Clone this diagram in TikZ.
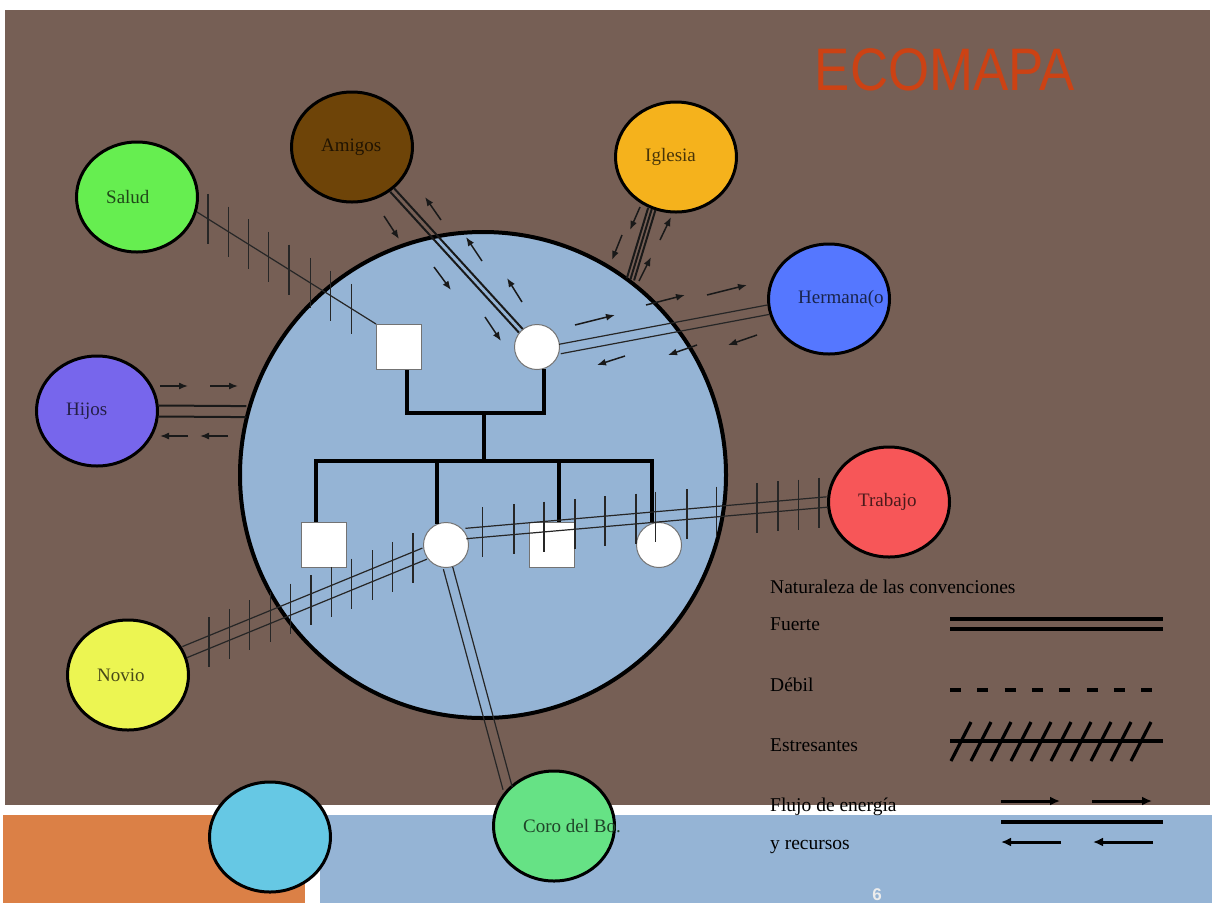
\documentclass[tikz,border=0pt]{standalone}
\usepackage{graphicx}
\usepackage{fontspec}
\setmainfont{Liberation Serif}
\newfontfamily\titulofont{Liberation Sans}
\usetikzlibrary{shapes.geometric,calc,arrows.meta}

\definecolor{fondo}{RGB}{118,95,85}
\definecolor{azul}{RGB}{149,180,213}
\definecolor{naranja}{RGB}{219,128,70}
\definecolor{tituloc}{RGB}{204,66,20}
\definecolor{amigosc}{RGB}{110,68,8}
\definecolor{iglesiac}{RGB}{245,178,28}
\definecolor{saludc}{RGB}{102,238,80}
\definecolor{hermanac}{RGB}{85,119,255}
\definecolor{hijosc}{RGB}{119,102,236}
\definecolor{trabajoc}{RGB}{247,86,88}
\definecolor{novioc}{RGB}{236,245,82}
\definecolor{vacioc}{RGB}{102,200,228}
\definecolor{coroc}{RGB}{102,226,133}

\tikzset{
  sistema/.style={ellipse, draw, line width=3pt, minimum width=121pt, minimum height=110pt, fill=#1},
  rotulo/.style 2 args={label={[anchor=west, inner sep=0pt, xshift=31pt, text=#1!30!black, font=\fontsize{19}{19}\selectfont]west:#2}},
  varon/.style={rectangle, draw=black!55, fill=white, line width=1pt, minimum size=45pt},
  mujer/.style={circle, draw=black!55, fill=white, line width=1pt, minimum size=45pt},
  arbol/.style={line width=3.5pt},
  fuerte/.style={line width=2pt, draw=black!90},
  normal/.style={line width=1.2pt, draw=black!85},
  flujo/.style={line width=1.5pt, draw=black!90, -{Latex[length=9pt,width=7pt]}},
  flujoley/.style={line width=3pt, -{Latex[length=10pt,width=9pt]}},
  leyenda/.style={anchor=base west, inner sep=0pt, font=\fontsize{19.5}{19.5}\selectfont},
  grueso/.style={line width=3.2pt},
}

\newcommand\paralela[4][]{%
  \draw[#1] ($(#2)!#4!90:(#3)$) -- ($(#3)!#4!-90:(#2)$);
  \draw[#1] ($(#2)!#4!-90:(#3)$) -- ($(#3)!#4!90:(#2)$);}

\begin{document}
\begin{tikzpicture}[x=1pt,y=-1pt]
\useasboundingbox (0,0) rectangle (1212,903);
\fill[white] (0,0) rectangle (1212,903);
\fill[fondo] (5,10) rectangle (1210,805);
\fill[naranja] (3,815) rectangle (305,903);
\fill[azul] (320,815) rectangle (1212,903);
\node[font=\titulofont\bfseries\fontsize{17}{17}\selectfont, text=gray!15] (pagina) at (877,895) {6};
\node[font=\titulofont\fontsize{60}{60}\selectfont, text=tituloc] (titulo) at (945,70) {\scalebox{0.88}[1]{ECOMAPA}};

% leyenda
\node[leyenda] (convenciones) at (770,593) {Naturaleza de las convenciones};
\node[leyenda] (fuerte) at (770,630) {Fuerte};
\node[leyenda] (debil) at (770,691) {Débil};
\node[leyenda] (estresantes) at (770,751) {Estresantes};
\node[leyenda] (flujo) at (770,811) {Flujo de energía};
\node[leyenda] (recursos) at (770,849) {y recursos};
\draw[grueso] (950,619) -- (1163,619) (950,629) -- (1163,629);
\draw[grueso, dash pattern=on 11pt off 16.3pt] (950,690) -- (1153,690);
\draw[grueso] (950,741) -- (1163,741);
\foreach \i in {0,...,9}
  \draw[grueso] (951+20*\i,761) -- ++(20,-39);
\draw[flujoley] (1001,801) -- (1060,801);
\draw[flujoley] (1092,801) -- (1152,801);
\draw[grueso] (1001,822) -- (1163,822);
\draw[flujoley] (1061,842) -- (1001,842);
\draw[flujoley] (1153,842) -- (1093,842);

\node[circle, draw, line width=4pt, fill=azul, minimum size=486pt] (familia) at (483,475) {};

\node[sistema=amigosc, rotulo={amigosc}{Amigos}] (amigos) at (352,147) {};
\node[sistema=iglesiac, rotulo={iglesiac}{Iglesia}] (iglesia) at (676,157) {};
\node[sistema=saludc, rotulo={saludc}{Salud}] (salud) at (137,197) {};
\node[sistema=hermanac, rotulo={hermanac}{Hermana(o}] (hermana) at (829,299) {};
\node[sistema=hijosc, rotulo={hijosc}{Hijos}] (hijos) at (97,411) {};
\node[sistema=trabajoc, rotulo={trabajoc}{Trabajo}] (trabajo) at (889,502) {};
\node[sistema=novioc, rotulo={novioc}{Novio}] (novio) at (128,675) {};
\node[sistema=vacioc] (vacio) at (270,837) {};
\node[sistema=coroc, rotulo={coroc}{Coro del Bo.}] (coro) at (554,826) {};

\node[varon] (padre) at (399,347) {};
\node[mujer] (madre) at (537,347) {};
\node[varon] (hijoa) at (324,545) {};
\node[mujer] (hijab) at (446,545) {};
\node[varon] (hijoc) at (552,545) {};
\node[mujer] (hijad) at (659,545) {};

\coordinate (union) at (484,413);
\coordinate (fratria) at (484,461);
\draw[arbol] ([xshift=8pt]padre.south) |- (union) -| (madre.-72);
\draw[arbol] (union) -- (fratria);
\draw[arbol] ([xshift=-8pt]hijoa.north) |- (fratria) -| (hijad.108);
\draw[arbol] (hijab.113) -- (hijab.113 |- fratria);
\draw[arbol] ([xshift=7pt]hijoc.north) -- ++(0,-61);

% vinculos
\paralela[fuerte]{amigos.-47}{madre.135}{2.6pt}
\paralela[fuerte]{iglesia.-115}{familia.53}{3.8pt}
\draw[fuerte] (iglesia.-115) -- (familia.53);
\paralela[normal]{madre.-5}{hermana.190}{4.8pt}
\paralela[fuerte]{hijos.east}{familia.165}{5.5pt}
\paralela[normal]{hijab.-85}{coro.141}{4.8pt}

\draw[normal] (salud.-14) -- (padre.north west);
\foreach \t in {0.062,0.175,0.288,0.401,0.514,0.633,0.746,0.864}
  \draw[normal] ($(salud.-14)!\t!(padre.north west)$) +(0,-25) -- +(0,25);
\paralela[normal]{novio.22}{hijab.202}{6pt}
\foreach \i in {0,...,10}
  \draw[normal] ($(novio.22)!0.101+0.085*\i!(hijab.202)$) +(0,-25) -- +(0,25);
\paralela[normal]{hijab.30}{trabajo.west}{5.2pt}
\foreach \t in {0.047,0.133,0.216,0.302,0.385,0.471,0.526,0.612,0.695,0.806,0.864,0.920,0.978}
  \draw[normal] ($(hijab.30)!\t!(trabajo.west)$) +(0,-25) -- +(0,25);

% flujos
\foreach \xa/\ya/\xb/\yb in {384/216/399/239, 434/267/451/290, 485/317/501/341,
    441/220/425/197, 482/261/466/237, 522/302/507/278,
    640/207/630/230, 622/235/612/260, 660/240/671/217, 639/281/651/257,
    575/325/615/315, 646/305/685/295, 707/295/747/285,
    757/335/728/345, 697/345/668/355, 625/356/597/365,
    160/386/188/386, 210/386/238/386, 188/436/160/436, 228/436/200/436}
  \draw[flujo] (\xa,\ya) -- (\xb,\yb);
\end{tikzpicture}
\end{document}
